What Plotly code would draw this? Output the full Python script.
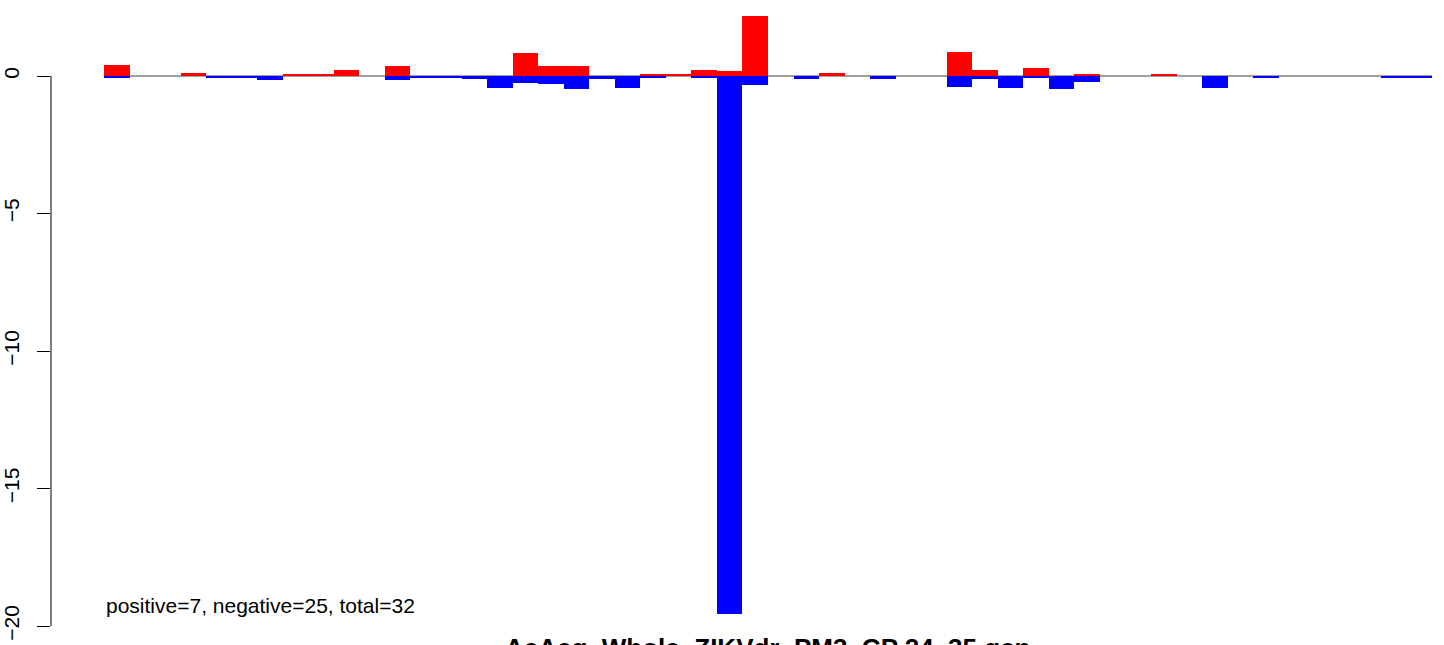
import plotly.graph_objects as go

n_bars = 52
positions = list(range(n_bars))

# positive (red) values per position
pos_vals = [0.41, 0, 0, 0.12, 0, 0, 0, 0.05, 0.08, 0.23,
            0, 0.37, 0, 0, 0, 0, 0.84, 0.36, 0.36, 0,
            0, 0.04, 0.07, 0.22, 0.18, 2.18, 0, 0, 0.11, 0,
            0, 0, 0, 0.88, 0.23, 0, 0.30, 0, 0.05, 0,
            0, 0.08, 0, 0, 0, 0, 0, 0, 0, 0,
            0, 0]
# negative (blue) values per position
neg_vals = [-0.05, 0, 0, 0, -0.05, -0.05, -0.16, 0, 0, 0,
            0, -0.16, -0.09, -0.05, -0.12, -0.42, -0.24, -0.28, -0.46, -0.10,
            -0.42, -0.06, 0, -0.06, -19.55, -0.32, 0, -0.10, 0, 0,
            -0.12, 0, 0, -0.41, -0.12, -0.45, -0.05, -0.49, -0.23, 0,
            0, 0, 0, -0.42, 0, -0.05, 0, 0, 0, 0,
            -0.05, -0.05]

y_ticks = [0, -5, -10, -15, -20]
y_tick_labels = ["0", "\u22125", "\u221210", "\u221215", "\u221220"]
summary_text = "positive=7, negative=25, total=32"
title_text = "AeAeg_Whole_ZIKVdr_PM3_CP 24_35.gen"

FONT = "Liberation Sans, Arial, Helvetica"

fig = go.Figure()
fig.add_trace(go.Bar(x=positions, y=pos_vals, width=1.0, marker=dict(color="#FF0000", line=dict(width=0)),
                     showlegend=False))
fig.add_trace(go.Bar(x=positions, y=neg_vals, width=1.0, marker=dict(color="#0000FF", line=dict(width=0)),
                     showlegend=False))

# zero reference line
fig.add_shape(type="line", xref="x", yref="y", x0=-0.5, x1=n_bars - 0.5, y0=0, y1=0,
              line=dict(color="#808080", width=1.5), layer="below")
# R-style axis line spanning the tick range only
fig.add_shape(type="line", xref="paper", yref="y", x0=0, x1=0, y0=min(y_ticks), y1=max(y_ticks),
              line=dict(color="black", width=1))

fig.add_annotation(text=summary_text, xref="x", yref="y", x=-0.5, y=-19.27, xanchor="left", yanchor="middle",
                   showarrow=False, font=dict(family=FONT, size=21, color="black"))
fig.add_annotation(text="<b>" + title_text + "</b>", xref="x", yref="paper", x=(n_bars - 1) / 2, y=0,
                   xanchor="center", yanchor="top", yshift=14, showarrow=False,
                   font=dict(family=FONT, size=26, color="black"))

fig.update_layout(
    width=1444, height=645,
    margin=dict(l=51, r=0, t=0, b=0, pad=0),
    paper_bgcolor="white", plot_bgcolor="white",
    barmode="overlay", bargap=0,
    xaxis=dict(range=[-2.575, 51.97], visible=False, showgrid=False, zeroline=False, automargin=False),
    yaxis=dict(range=[-(645 - 76) / 27.5, 76 / 27.5], tickvals=y_ticks, ticktext=y_tick_labels,
               ticks="outside", ticklen=13, tickwidth=1, tickcolor="black", tickangle=-90,
               showgrid=False, zeroline=False, showline=False, automargin=False,
               ticklabelstandoff=10,
               tickfont=dict(family=FONT, size=21, color="black")),
    font=dict(family=FONT),
)

fig.write_html("out.html", config={"displayModeBar": False},
               post_script="document.body.style.margin='0';document.body.style.overflow='hidden';")
